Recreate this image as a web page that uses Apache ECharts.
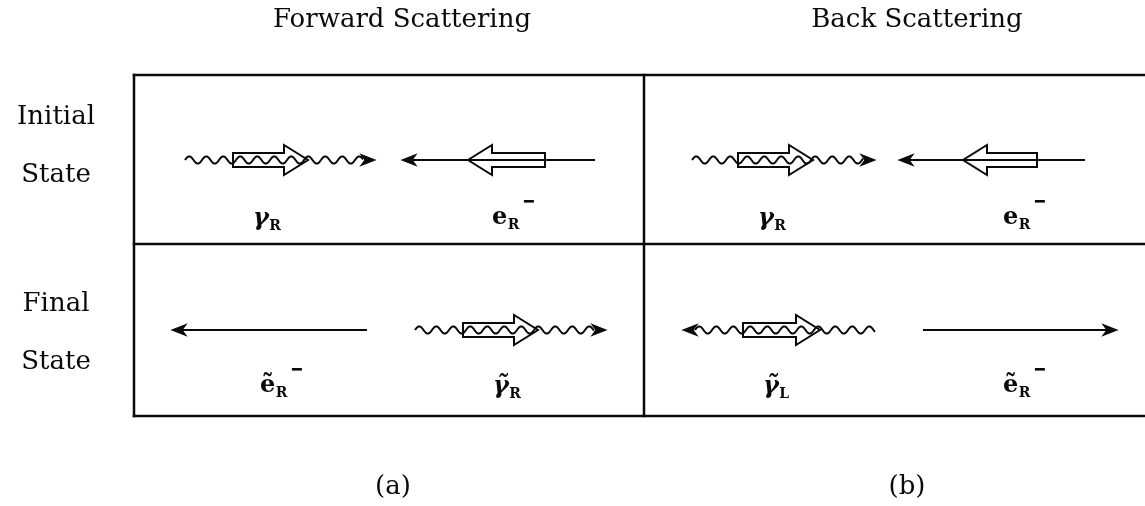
<!DOCTYPE html>
<html><head><meta charset="utf-8">
<script src="https://cdn.jsdelivr.net/npm/echarts@6/dist/echarts.min.js"></script>
<style>html,body{margin:0;padding:0;background:#fff}#c{width:1145px;height:506px}</style>
</head><body><div id="c"></div>
<script>
// ---- diagram content (in diagram units: x 0..1145, y 0..506 downward) ----
const panelTitles = ['Forward Scattering', 'Back Scattering'];
const panelTitleX = [402, 917];
const panelTags = ['(a)', '(b)'];
const panelTagX = [393, 907];
const rowLabels = ['Initial', 'State', 'Final', 'State'];
const rowLabelY = [117, 175, 304, 362];
// frame segments [x1, y1, x2, y2]
const frameSegments = [
  [134, 75, 1145, 75], [134, 244, 1145, 244], [134, 416, 1145, 416],
  [134, 75, 134, 416], [644, 75, 644, 416]
];
// photon wavy lines [y, xStart, xEnd, headSide(1=end,-1=start)]
const photonLines = [
  [160, 185, 375, 1], [160, 692, 875, 1],
  [330, 415, 606, 1], [330, 683, 875, -1]
];
// electron straight lines [y, tail, tip]
const electronLines = [
  [160, 595, 402], [160, 1085, 899],
  [330, 367, 172], [330, 923, 1117]
];
// spin (helicity) block arrows [y, tail, tip]
const spinArrows = [
  [160, 233, 308], [160, 545, 468], [160, 738, 813], [160, 1037, 963],
  [330, 463, 538], [330, 743, 820]
];
// particle labels
const particleNames = ['γ', 'e', 'γ', 'e', 'ẽ', 'γ̃', 'γ̃', 'ẽ'];
const particleSubs = ['R', 'R', 'R', 'R', 'R', 'R', 'L', 'R'];
const particleCharge = [0, 1, 0, 1, 1, 0, 0, 1];
const particleX = [253, 492, 758, 1003, 260, 493, 763, 1003];
const particleY = [219, 218, 219, 218, 386, 387, 387, 386];

// ---- rendering ----
const INK = '#0a0a0a';
const SERIF = '"DejaVu Serif", serif';
const measureCtx = document.createElement('canvas').getContext('2d');
function textWidth(t, font) { measureCtx.font = font; return measureCtx.measureText(t).width; }

const chart = echarts.init(document.getElementById('c'), null, {renderer: 'canvas'});

function headPoly(tx, ty, dir) {
  return {type: 'polygon', shape: {points: [[tx, ty], [tx - 14 * dir, ty - 5.5], [tx - 10 * dir, ty], [tx - 14 * dir, ty + 5.5]]},
    style: {fill: INK, stroke: INK, lineWidth: 1.2, lineJoin: 'miter'}};
}

const textItems = [];
panelTitles.forEach((t, i) => textItems.push({t, x: panelTitleX[i], y: 20, size: 26}));
panelTags.forEach((t, i) => textItems.push({t, x: panelTagX[i], y: 487, size: 26}));
rowLabels.forEach((t, i) => textItems.push({t, x: 56, y: rowLabelY[i], size: 26}));

const option = {
  animation: false,
  grid: {left: 0, right: 0, top: 0, bottom: 0},
  xAxis: {type: 'value', min: 0, max: 1145, show: false},
  yAxis: {type: 'value', min: 0, max: 506, inverse: true, show: false},
  series: [
    {
      type: 'custom', name: 'frame', clip: false, silent: true,
      data: frameSegments, encode: {x: [0, 2], y: [1, 3]},
      renderItem: (p, api) => {
        const s = frameSegments[p.dataIndex];
        const a = api.coord([s[0], s[1]]), b = api.coord([s[2], s[3]]);
        return {type: 'line', shape: {x1: a[0], y1: a[1], x2: b[0], y2: b[1]}, style: {stroke: INK, lineWidth: 2.5, lineCap: 'square'}};
      }
    },
    {
      type: 'custom', name: 'spin', clip: false, silent: true,
      data: spinArrows, encode: {x: [1, 2], y: 0},
      renderItem: (p, api) => {
        const d = spinArrows[p.dataIndex];
        const a = api.coord([d[1], d[0]]), b = api.coord([d[2], d[0]]);
        const dir = Math.sign(b[0] - a[0]);
        const y = a[1], tail = a[0], tip = b[0], xh = tip - dir * 24;
        return {type: 'polygon', shape: {points: [[tail, y - 7], [xh, y - 7], [xh, y - 15], [tip, y], [xh, y + 15], [xh, y + 7], [tail, y + 7]]},
          style: {fill: 'none', stroke: INK, lineWidth: 2}};
      }
    },
    {
      type: 'custom', name: 'photons', clip: false, silent: true,
      data: photonLines, encode: {x: [1, 2], y: 0},
      renderItem: (p, api) => {
        const d = photonLines[p.dataIndex];
        const a = api.coord([d[1], d[0]]), b = api.coord([d[2], d[0]]);
        const y = a[1], dir = d[3];
        let ws, we, tip;
        if (dir > 0) { ws = a[0]; we = b[0] - 12; tip = b[0]; } else { ws = a[0] + 12; we = b[0]; tip = a[0]; }
        const pts = [];
        const period = 17, amp = 3.6;
        for (let x = ws; x <= we; x += 0.5) pts.push([x, y - amp * Math.sin(2 * Math.PI * (x - ws) / period)]);
        return {type: 'group', children: [
          {type: 'polyline', shape: {points: pts}, style: {stroke: INK, lineWidth: 2, fill: 'none'}},
          headPoly(tip, y, dir)
        ]};
      }
    },
    {
      type: 'custom', name: 'electrons', clip: false, silent: true,
      data: electronLines, encode: {x: [1, 2], y: 0},
      renderItem: (p, api) => {
        const d = electronLines[p.dataIndex];
        const a = api.coord([d[1], d[0]]), b = api.coord([d[2], d[0]]);
        const dir = Math.sign(b[0] - a[0]);
        return {type: 'group', children: [
          {type: 'line', shape: {x1: a[0], y1: a[1], x2: b[0] - dir * 8, y2: b[1]}, style: {stroke: INK, lineWidth: 2}},
          headPoly(b[0], b[1], dir)
        ]};
      }
    },
    {
      type: 'custom', name: 'particles', clip: false, silent: true,
      data: particleX.map((x, i) => [x, particleY[i]]), encode: {x: 0, y: 1},
      renderItem: (p, api) => {
        const i = p.dataIndex;
        const c = api.coord([particleX[i], particleY[i]]);
        const isGamma = particleNames[i].charAt(0) === 'γ';
        const baseFont = (isGamma ? 'italic bold 24px ' : 'bold 24px ') + SERIF;
        const subFont = 'bold 14px ' + SERIF;
        const bw = textWidth(particleNames[i].charAt(0), baseFont);
        const sw = textWidth(particleSubs[i], subFont);
        const kids = [
          {type: 'text', style: {text: particleNames[i], x: c[0], y: c[1], font: baseFont, fill: INK, align: 'left', verticalAlign: 'middle'}},
          {type: 'text', style: {text: particleSubs[i], x: c[0] + bw + 0.5, y: c[1] + 7.5, font: subFont, fill: INK, align: 'left', verticalAlign: 'middle'}}
        ];
        if (particleCharge[i]) {
          kids.push({type: 'rect', shape: {x: c[0] + bw + sw + 5, y: c[1] - 18, width: 10, height: 2.6}, style: {fill: INK}});
        }
        return {type: 'group', children: kids};
      }
    },
    {
      type: 'custom', name: 'texts', clip: false, silent: true,
      data: textItems.map(t => [t.x, t.y]), encode: {x: 0, y: 1},
      renderItem: (p, api) => {
        const t = textItems[p.dataIndex];
        const c = api.coord([t.x, t.y]);
        return {type: 'text', style: {text: t.t, x: c[0], y: c[1], font: t.size + 'px ' + SERIF, fill: INK, align: 'center', verticalAlign: 'middle'}};
      }
    }
  ]
};
chart.setOption(option);
</script></body></html>
